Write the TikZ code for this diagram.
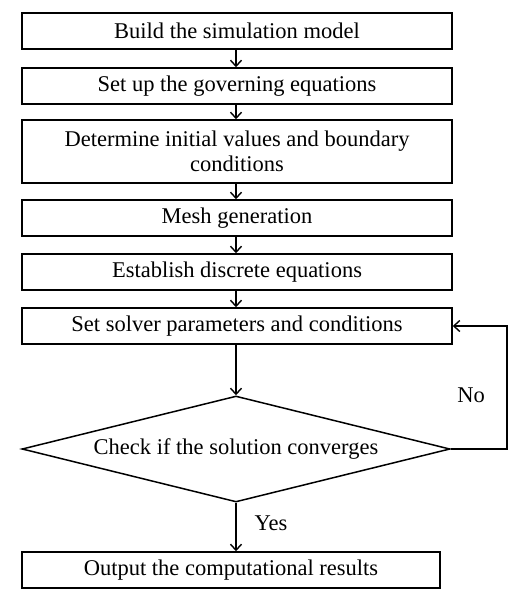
\documentclass[tikz,border=0pt]{standalone}
\usepackage{fontspec}
\setmainfont{Liberation Serif}
\usetikzlibrary{shapes.geometric,arrows.meta}
\begin{document}
\begin{tikzpicture}[x=1pt,y=1pt,
  every node/.style={font=\fontsize{22.5}{25}\selectfont},
  stepbox/.style={draw, line width=1.5pt, minimum width=430pt, minimum height=36pt, inner sep=0pt, align=center},
  decbox/.style={draw, diamond, line width=1.5pt, minimum width=428pt, minimum height=106pt, inner sep=0pt, aspect=4},
  conn/.style={line width=1.4pt, -{Straight Barb[length=6pt,width=11pt,line width=1.4pt]}},
  lbl/.style={inner sep=0pt}]
\useasboundingbox (0,0) rectangle (517,-597);
\node[stepbox] (b1) at (237,-31) {Build the simulation model};
\node[stepbox] (b2) at (237,-86) {Set up the governing equations};
\node[stepbox, minimum height=63pt] (b3) at (237,-151.5) {Determine initial values and boundary\\conditions};
\node[stepbox] (b4) at (237,-218) {Mesh generation};
\node[stepbox] (b5) at (237,-272) {Establish discrete equations};
\node[stepbox] (b6) at (237,-326) {Set solver parameters and conditions};
\node[decbox] (d) at (236,-449) {Check if the solution converges};
\node[stepbox, minimum width=418pt] (b7) at (231,-570) {Output the computational results};
\coordinate (c1) at (507,-449);
\coordinate (c2) at (507,-326);
\draw[conn] (236,0 |- b1.south) -- (236,0 |- b2.north);
\draw[conn] (236,0 |- b2.south) -- (236,0 |- b3.north);
\draw[conn] (236,0 |- b3.south) -- (236,0 |- b4.north);
\draw[conn] (236,0 |- b4.south) -- (236,0 |- b5.north);
\draw[conn] (236,0 |- b5.south) -- (236,0 |- b6.north);
\draw[conn] (236,0 |- b6.south) -- (d.north);
\draw[conn] (d.south) -- (236,0 |- b7.north);
\draw[conn] (d.east) -- (c1) -- (c2) -- (b6.east);
\node[lbl] (yes) at (271,-523) {Yes};
\node[lbl] (no) at (471,-395) {No};
\end{tikzpicture}
\end{document}
